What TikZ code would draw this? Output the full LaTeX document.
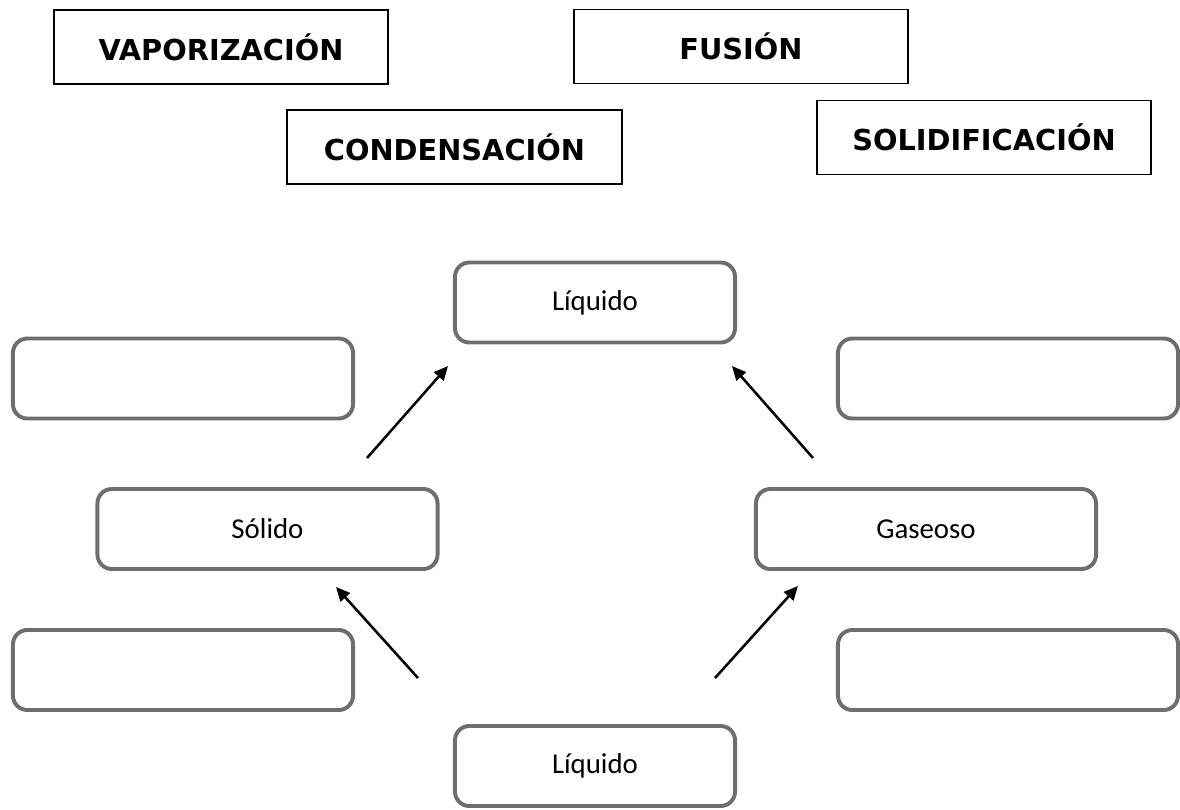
\documentclass[tikz,border=0pt]{standalone}
\usepackage{fontspec}
\setmainfont{Carlito}
\newfontfamily\termfont{DejaVu Sans}
\usepackage{tikz}
\usetikzlibrary{arrows.meta}
\definecolor{boxgray}{RGB}{110,110,110}

\begin{document}
\begin{tikzpicture}[x=0.025cm, y=-0.025cm,
        term/.style={draw=black, line width=1.4pt, minimum width=8.36cm, minimum height=1.85cm,
                inner sep=0pt, font=\termfont\bfseries\fontsize{20.5}{24}\selectfont},
        state/.style={draw=boxgray, line width=2.8pt, rounded corners=0.36cm, minimum width=8.5cm,
                minimum height=2.0cm, inner sep=0pt, font=\fontsize{20.5}{24}\selectfont},
        flow/.style={-{Triangle[length=10pt,width=9pt]}, line width=1.8pt}]
        \useasboundingbox (0, 0) rectangle (1180, 810);

        % words to place
        \node[term] (vap) at (221, 47) {VAPORIZACIÓN};
        \node[term] (fus) at (741, 46.5) {FUSIÓN};
        \node[term] (cond) at (454.5, 147) {CONDENSACIÓN};
        \node[term] (sol) at (984, 137.5) {SOLIDIFICACIÓN};

        % states
        \node[state, minimum width=7cm] (liqT) at (595, 302.5) {Líquido};
        \node[state] (solido) at (267.5, 529) {Sólido};
        \node[state] (gas) at (926, 529) {Gaseoso};
        \node[state, minimum width=7cm] (liqB) at (595, 766) {Líquido};

        % empty answer boxes
        \node[state] (blankTL) at (183, 378.5) {};
        \node[state] (blankTR) at (1008, 378.5) {};
        \node[state] (blankBL) at (183, 670) {};
        \node[state] (blankBR) at (1008, 670) {};

        \coordinate (s1) at (367, 458);
        \coordinate (s2) at (448, 366);
        \coordinate (g1) at (813, 458);
        \coordinate (g2) at (732, 366);
        \coordinate (l1) at (418, 678);
        \coordinate (l2) at (336, 587);
        \coordinate (r1) at (715, 678);
        \coordinate (r2) at (798, 586);

        \draw[flow] (s1) -- (s2);
        \draw[flow] (g1) -- (g2);
        \draw[flow] (l1) -- (l2);
        \draw[flow] (r1) -- (r2);

      \end{tikzpicture}
\end{document}
